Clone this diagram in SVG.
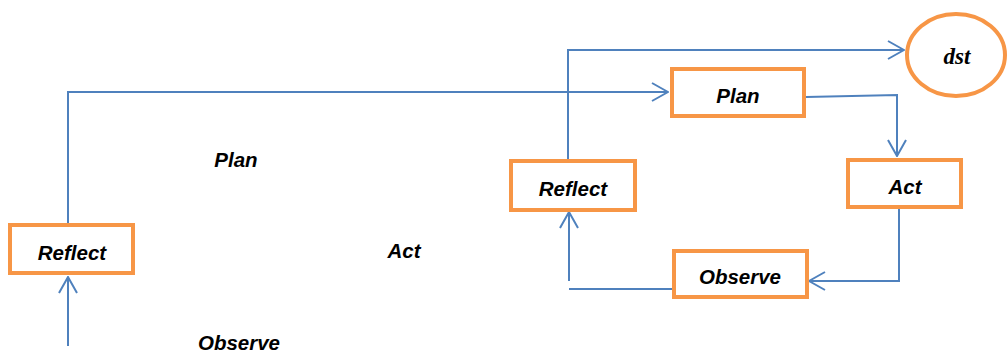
<svg xmlns="http://www.w3.org/2000/svg" width="1008" height="352" viewBox="0 0 1008 352">
<style>
.box{fill:#fff;stroke:#F79646;stroke-width:4}
.lbl{font-family:"Liberation Sans",Arial,sans-serif;font-weight:bold;font-style:italic;font-size:20.5px;fill:#000;text-anchor:middle}
.ln{fill:none;stroke:#4F81BD;stroke-width:2}
</style>
<defs>
<marker id="arr" viewBox="0 0 18 20" refX="17" refY="10" markerWidth="18" markerHeight="20" markerUnits="userSpaceOnUse" orient="auto">
<path d="M1,1 L17,10 L1,19" fill="none" stroke="#4F81BD" stroke-width="2"/>
</marker>
</defs>
<rect width="1008" height="352" fill="#fff"/>
<g id="connectors">
<polyline class="ln" points="68,225 68,92 668,92" marker-end="url(#arr)"/>
<line class="ln" x1="68" y1="346" x2="68" y2="277" marker-end="url(#arr)"/>
<polyline class="ln" points="568,159 568,50 904,50" marker-end="url(#arr)"/>
<polyline class="ln" points="806,97 897,95 897,156" marker-end="url(#arr)"/>
<polyline class="ln" points="899,209 899,281 809,281" marker-end="url(#arr)"/>
<line class="ln" x1="672" y1="289" x2="569" y2="289"/>
<line class="ln" x1="569" y1="281" x2="569" y2="212" marker-end="url(#arr)"/>
</g>
<g id="reflect-left"><rect class="box" x="10" y="225" width="123" height="48"/><text class="lbl" x="72" y="260">Reflect</text></g>
<g id="plan"><rect class="box" x="672" y="69" width="132" height="47"/><text class="lbl" x="738" y="103">Plan</text></g>
<g id="reflect-right"><rect class="box" x="511" y="161" width="124" height="49"/><text class="lbl" x="573" y="196">Reflect</text></g>
<g id="act"><rect class="box" x="848" y="160" width="113" height="47"/><text class="lbl" x="905" y="194">Act</text></g>
<g id="observe"><rect class="box" x="674" y="251" width="133" height="46"/><text class="lbl" x="740" y="284">Observe</text></g>
<g id="dst"><ellipse cx="956" cy="55" rx="49" ry="41" fill="#fff" stroke="#F79646" stroke-width="4"/><text x="957" y="64" text-anchor="middle" font-family="'Liberation Serif','Times New Roman',serif" font-weight="bold" font-style="italic" font-size="23">dst</text></g>
<g id="floating">
<text class="lbl" x="236" y="167">Plan</text>
<text class="lbl" x="404" y="258">Act</text>
<text class="lbl" x="239" y="350">Observe</text>
</g>
</svg>
